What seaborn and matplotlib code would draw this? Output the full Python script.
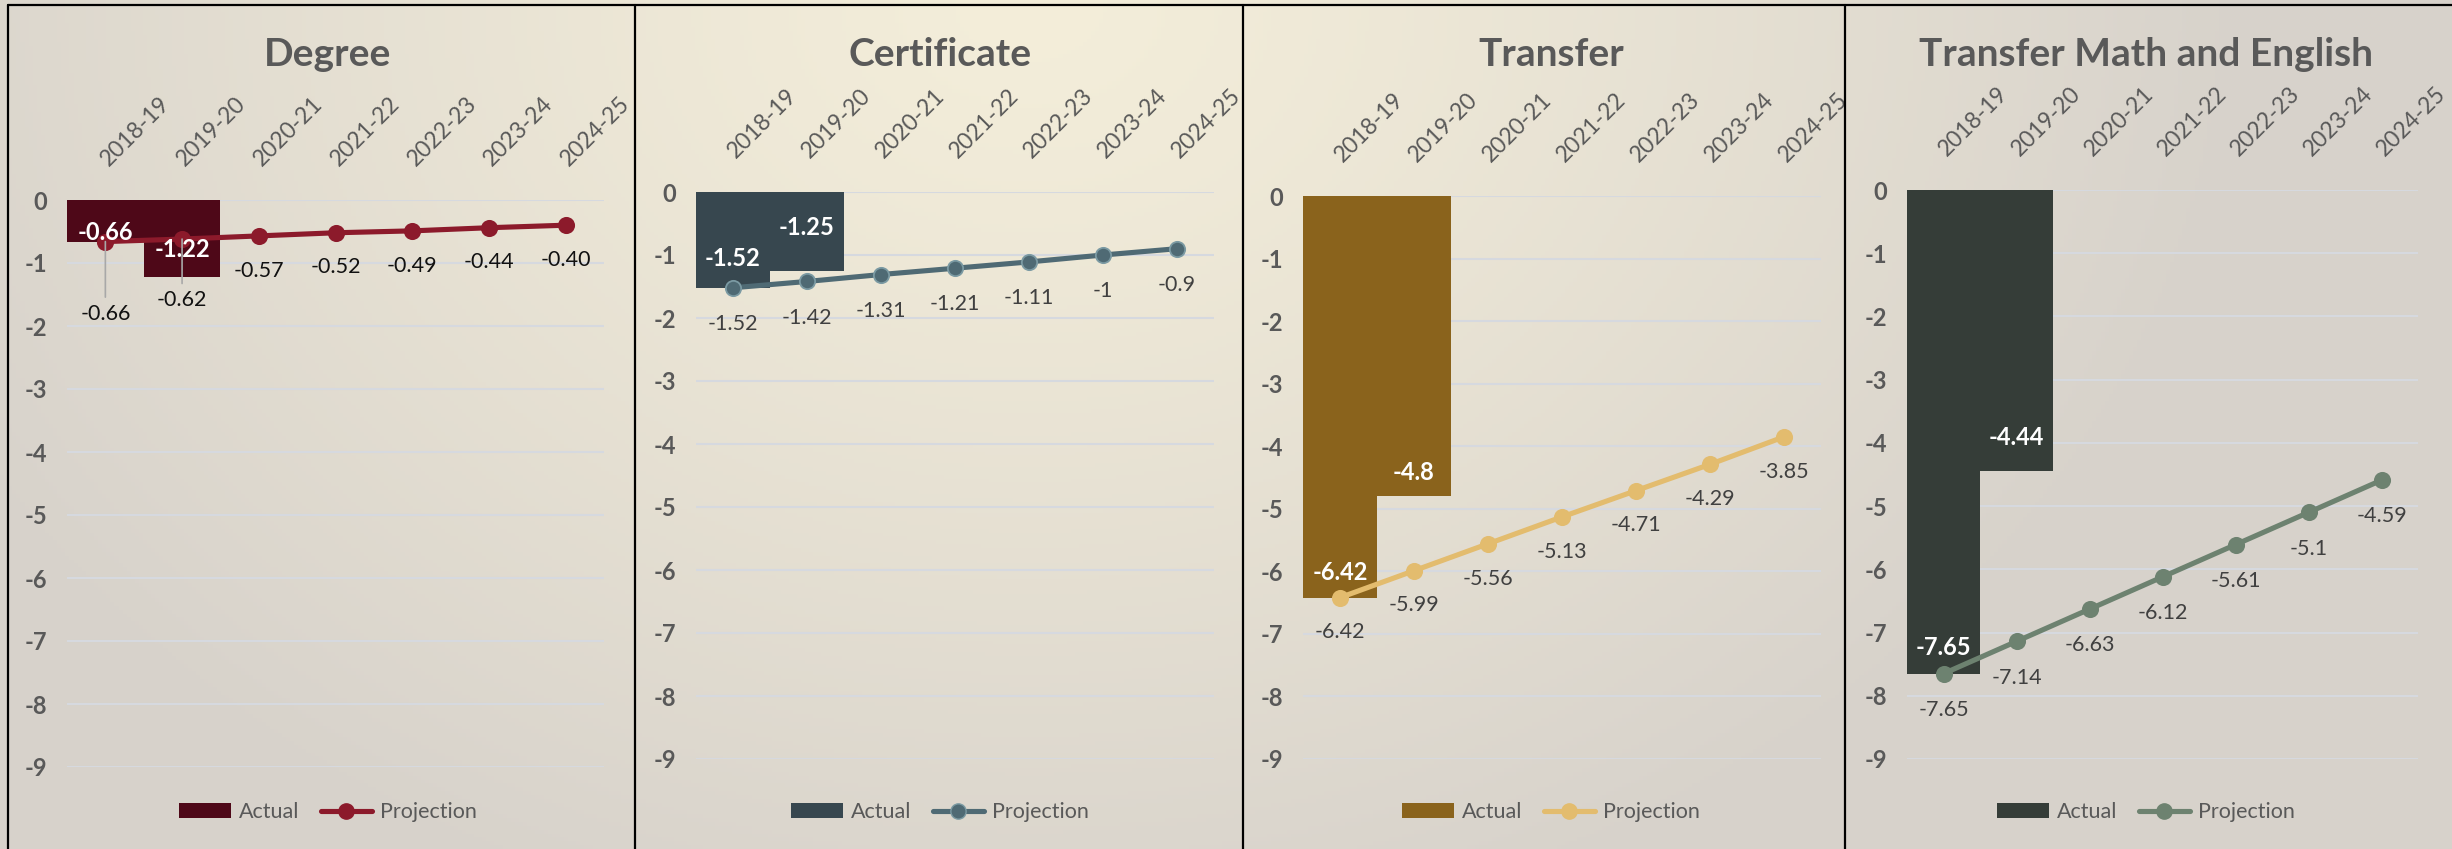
import numpy as np
import matplotlib
matplotlib.use("Agg")
import matplotlib.pyplot as plt
import matplotlib.transforms as mtransforms
import seaborn as sns
from matplotlib.patches import Patch
from matplotlib.lines import Line2D

# ---- data ----
categories = ["2018-19", "2019-20", "2020-21", "2021-22", "2022-23", "2023-24", "2024-25"]
actual_years = ["2018-19", "2019-20"]

titles = ["Degree", "Certificate", "Transfer", "Transfer Math and English"]

degree_actual = [-0.66, -1.22]
degree_actual_labels = ["-0.66", "-1.22"]
degree_proj = [-0.66, -0.62, -0.57, -0.52, -0.49, -0.44, -0.40]
degree_proj_labels = ["-0.66", "-0.62", "-0.57", "-0.52", "-0.49", "-0.44", "-0.40"]

cert_actual = [-1.52, -1.25]
cert_actual_labels = ["-1.52", "-1.25"]
cert_proj = [-1.52, -1.42, -1.31, -1.21, -1.11, -1.0, -0.9]
cert_proj_labels = ["-1.52", "-1.42", "-1.31", "-1.21", "-1.11", "-1", "-0.9"]

transfer_actual = [-6.42, -4.8]
transfer_actual_labels = ["-6.42", "-4.8"]
transfer_proj = [-6.42, -5.99, -5.56, -5.13, -4.71, -4.29, -3.85]
transfer_proj_labels = ["-6.42", "-5.99", "-5.56", "-5.13", "-4.71", "-4.29", "-3.85"]

tme_actual = [-7.65, -4.44]
tme_actual_labels = ["-7.65", "-4.44"]
tme_proj = [-7.65, -7.14, -6.63, -6.12, -5.61, -5.1, -4.59]
tme_proj_labels = ["-7.65", "-7.14", "-6.63", "-6.12", "-5.61", "-5.1", "-4.59"]

actuals = [degree_actual, cert_actual, transfer_actual, tme_actual]
actual_labels = [degree_actual_labels, cert_actual_labels, transfer_actual_labels, tme_actual_labels]
projections = [degree_proj, cert_proj, transfer_proj, tme_proj]
proj_labels = [degree_proj_labels, cert_proj_labels, transfer_proj_labels, tme_proj_labels]

# ---- style ----
bar_colors = ["#4e0818", "#37474f", "#8a631c", "#353d38"]
line_colors = ["#8c1a2b", "#4f6a74", "#e3bc6e", "#6d8270"]
marker_edges = ["#8c1a2b", "#7b9aa3", "#e3bc6e", "#6d8270"]
proj_text_colors = ["#111111", "#404040", "#404040", "#404040"]
# how far above the bar end the white bar label sits (data units)
bar_label_lift = [[0.15, 0.43], [0.46, 0.68], [0.40, 0.38], [0.42, 0.53]]
# distance (points) of projection labels below the markers
proj_label_drop = [[52, 44, 25, 25, 25, 25, 25], [26] * 7, [25] * 7, [26] * 7]

W, H = 2452, 849
axes_px = [(67, 537), (696, 518), (1303, 518), (1907, 511)]
axes_top = [200, 192, 196, 190]
axes_bottom = [767, 759, 759, 759]
title_x = [328, 940, 1551, 2146]

sns.set_style("white")
plt.rcParams["font.family"] = ["Lato", "DejaVu Sans"]

fig = plt.figure(figsize=(W / 100, H / 100), dpi=100)

# background gradient
bg = fig.add_axes([0, 0, 1, 1], zorder=-10)
uu, vv = np.meshgrid(np.linspace(0, 1, 600), np.linspace(0, 1, 220))
d = np.sqrt(((uu - 0.42) / 0.5) ** 2 + (vv / 1.15) ** 2)
t = np.clip(d, 0, 1) ** 1.2
cream = np.array([0xf4, 0xee, 0xda]) / 255
grey = np.array([0xd7, 0xd2, 0xcb]) / 255
img = cream[None, None, :] * (1 - t[..., None]) + grey[None, None, :] * t[..., None]
bg.imshow(img, aspect="auto", extent=[0, 1, 0, 1], origin="upper")
bg.set_axis_off()

# panel borders
for bx in [8, 635, 1243, 1845]:
    fig.add_artist(Line2D([bx / W, bx / W], [0, 1 - 5 / H], color="black", lw=1.6,
                          transform=fig.transFigure))
fig.add_artist(Line2D([8 / W, 1], [1 - 5 / H, 1 - 5 / H], color="black", lw=1.6,
                      transform=fig.transFigure))

shift_right = mtransforms.ScaledTranslation(0.06, 0, fig.dpi_scale_trans)

for i in range(4):
    left, width = axes_px[i]
    y0 = 1 - axes_bottom[i] / H
    h = (axes_bottom[i] - axes_top[i]) / H
    ax = fig.add_axes([left / W, y0, width / W, h])
    ax.patch.set_alpha(0)

    sns.barplot(x=actual_years, y=actuals[i], order=categories, color=bar_colors[i],
                width=1.0, saturation=1, linewidth=0, errorbar=None, ax=ax)
    sns.pointplot(x=categories, y=projections[i], order=categories, color=line_colors[i],
                  errorbar=None, ax=ax, markersize=11, linewidth=3.7,
                  markeredgecolor=marker_edges[i], markeredgewidth=1.3)

    # bar labels
    for j, v in enumerate(actuals[i]):
        ax.text(j, v + bar_label_lift[i][j], actual_labels[i][j],
                color="white", fontsize=17, fontweight="bold", ha="center", va="center")

    # projection labels
    for j, v in enumerate(projections[i]):
        drop = proj_label_drop[i][j]
        ax.annotate(proj_labels[i][j], (j, v), xytext=(0, -drop), textcoords="offset points",
                    ha="center", va="center", fontsize=15.5, color=proj_text_colors[i])
        if drop > 30:
            ax.annotate("", (j, v), xytext=(0, -drop + 12), textcoords="offset points",
                        arrowprops=dict(arrowstyle="-", color="#a8a8a8", lw=1.2,
                                        shrinkA=0, shrinkB=0))

    ax.set_xlim(-0.5, 6.5)
    ax.set_ylim(-9, 0)
    ax.set_yticks(range(-9, 1))
    ax.set_yticklabels([str(k) for k in range(-9, 1)], fontweight="bold")
    ax.grid(axis="y", color="#d6d9df", lw=1.5)
    ax.grid(axis="x", visible=False)
    ax.set_axisbelow(True)
    for s in ax.spines.values():
        s.set_visible(False)
    ax.set_xlabel("")
    ax.set_ylabel("")

    ax.xaxis.tick_top()
    ax.set_xticks(range(len(categories)))
    ax.set_xticklabels(categories, rotation=45, ha="left", va="bottom",
                       rotation_mode="anchor")
    ax.tick_params(axis="x", length=0, pad=22, labelsize=16.5, labelcolor="#595959")
    ax.tick_params(axis="y", length=0, pad=14, labelsize=17, labelcolor="#595959")
    for lab in ax.get_xticklabels():
        lab.set_transform(lab.get_transform() + shift_right)

    fig.text(title_x[i] / W, 1 - 55 / H, titles[i], ha="center", va="center",
             fontsize=28, fontweight="bold", color="#595959")

    handles = [Patch(facecolor=bar_colors[i], edgecolor="none", label="Actual"),
               Line2D([], [], color=line_colors[i], lw=3.7, marker="o", markersize=11,
                      markeredgecolor=marker_edges[i], label="Projection")]
    fig.legend(handles=handles, loc="center", bbox_to_anchor=(title_x[i] / W, 1 - 812 / H),
               ncol=2, frameon=False, fontsize=15.5, labelcolor="#595959",
               handlelength=2.4, handleheight=0.65, columnspacing=1.0, handletextpad=0.35)

fig.savefig("out.png", dpi=100)
